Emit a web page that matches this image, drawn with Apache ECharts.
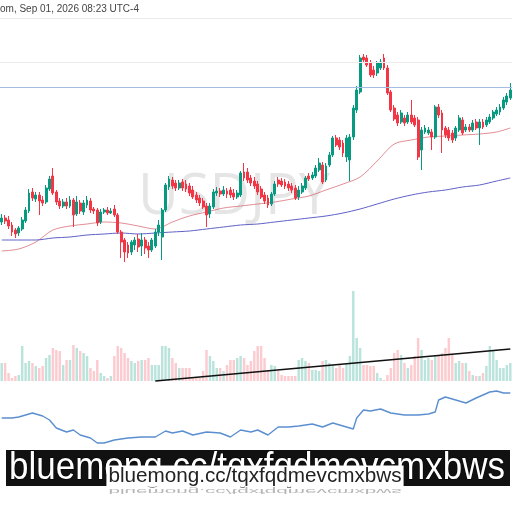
<!DOCTYPE html>
<html>
<head>
<meta charset="utf-8">
<script src="https://cdn.jsdelivr.net/npm/echarts@6/dist/echarts.min.js"></script>
<style>
  html, body { margin: 0; padding: 0; background: #fff; }
  #chart { width: 512px; height: 512px; }
</style>
</head>
<body>
<div id="chart"></div>
<script>
// USDJPY candles
const opens = [
  147.92, 148.00, 147.96, 147.86, 147.76, 147.70, 147.78, 147.94, 148.14, 148.52,
  148.38, 148.46, 148.36, 148.32, 148.58, 148.84, 148.52, 148.34, 148.24, 148.32,
  148.24, 148.36, 148.08, 148.30, 148.12, 148.26, 148.34, 148.18, 148.16, 147.92,
  148.12, 148.16, 148.10, 148.18, 148.06, 147.72, 147.56, 147.46, 147.32, 147.46,
  147.58, 147.44, 147.56, 147.44, 147.36, 147.44, 147.72, 147.62, 148.16, 148.62,
  148.76, 148.70, 148.60, 148.72, 148.68, 148.64, 148.56, 148.46, 148.40, 148.34,
  148.24, 148.08, 148.22, 148.50, 148.54, 148.48, 148.54, 148.56, 148.50, 148.42,
  148.46, 148.92, 148.92, 148.80, 148.74, 148.68, 148.58, 148.46, 148.40, 148.28,
  148.48, 148.76, 148.74, 148.72, 148.68, 148.64, 148.60, 148.42, 148.52, 148.60,
  148.84, 148.80, 148.84, 148.96, 149.06, 148.76, 149.06, 149.26, 149.60, 149.56,
  149.50, 149.22, 149.16, 149.62, 150.16, 150.52, 151.22, 151.20, 151.10, 150.96,
  150.90, 151.00, 151.20, 151.00, 150.52, 150.20, 150.06, 149.92, 150.00, 149.92,
  150.06, 150.00, 149.96, 149.36, 149.72, 149.70, 149.72, 149.62, 150.22, 150.10,
  149.80, 149.76, 149.70, 149.60, 149.76, 149.96, 149.76, 149.82, 149.76, 149.92,
  149.80, 149.92, 149.86, 149.92, 150.00, 150.08, 150.12, 150.20, 150.32, 150.40
]
const closes = [
  148.00, 147.94, 147.84, 147.72, 147.68, 147.80, 147.96, 148.16, 148.50, 148.40,
  148.46, 148.34, 148.30, 148.60, 148.78, 148.50, 148.32, 148.24, 148.32, 148.24,
  148.36, 148.06, 148.32, 148.14, 148.30, 148.36, 148.16, 148.14, 147.90, 148.12,
  148.16, 148.10, 148.14, 148.06, 147.72, 147.52, 147.32, 147.30, 147.52, 147.56,
  147.42, 147.56, 147.40, 147.36, 147.56, 147.72, 147.86, 148.16, 148.66, 148.78,
  148.64, 148.60, 148.70, 148.60, 148.58, 148.50, 148.42, 148.36, 148.30, 148.22,
  148.06, 148.24, 148.52, 148.54, 148.48, 148.56, 148.48, 148.46, 148.42, 148.50,
  148.90, 148.80, 148.76, 148.70, 148.64, 148.52, 148.42, 148.34, 148.26, 148.48,
  148.68, 148.68, 148.66, 148.64, 148.60, 148.56, 148.40, 148.56, 148.64, 148.80,
  148.78, 148.86, 149.00, 149.10, 148.72, 149.04, 149.26, 149.60, 149.46, 149.42,
  149.30, 149.60, 149.62, 150.20, 150.56, 151.20, 151.16, 151.06, 150.86, 150.86,
  151.10, 151.12, 151.00, 150.50, 150.16, 149.98, 149.90, 150.10, 149.90, 150.06,
  149.92, 149.86, 149.22, 149.76, 149.80, 149.76, 149.62, 150.22, 150.06, 149.76,
  149.66, 149.60, 149.56, 149.80, 150.00, 149.70, 149.82, 149.76, 149.90, 149.80,
  149.92, 149.82, 149.96, 150.02, 150.12, 150.16, 150.22, 150.36, 150.44, 150.56
]
const lows = [
  147.86, 147.88, 147.78, 147.64, 147.60, 147.64, 147.74, 147.90, 148.10, 148.34,
  148.32, 148.06, 148.24, 148.28, 148.54, 148.46, 148.26, 148.18, 148.20, 148.18,
  148.20, 147.82, 148.04, 148.08, 148.06, 148.20, 148.10, 148.08, 147.84, 147.88,
  148.08, 148.06, 148.08, 148.02, 147.68, 147.20, 147.12, 147.20, 147.26, 147.36,
  147.32, 147.24, 147.28, 147.20, 147.32, 147.40, 147.64, 147.16, 148.12, 148.56,
  148.58, 148.54, 148.56, 148.54, 148.52, 148.44, 148.38, 148.30, 148.24, 148.18,
  147.82, 148.00, 148.18, 148.44, 148.42, 148.44, 148.40, 148.40, 148.36, 148.38,
  148.42, 148.74, 148.70, 148.64, 148.58, 148.46, 148.38, 148.28, 148.20, 148.24,
  148.44, 148.62, 148.62, 148.58, 148.54, 148.50, 148.36, 148.36, 148.48, 148.56,
  148.74, 148.76, 148.80, 148.92, 148.68, 148.72, 149.02, 149.22, 149.42, 149.36,
  149.22, 149.12, 148.74, 149.56, 150.10, 150.48, 151.10, 151.02, 150.82, 150.80,
  150.84, 150.96, 150.96, 150.46, 150.12, 149.94, 149.84, 149.88, 149.84, 149.88,
  149.88, 149.82, 149.16, 148.96, 149.68, 149.66, 149.36, 149.58, 150.00, 149.30,
  149.60, 149.54, 149.50, 149.54, 149.72, 149.66, 149.72, 149.72, 149.72, 149.76,
  149.46, 149.78, 149.82, 149.88, 149.96, 150.04, 150.06, 150.16, 150.26, 150.36
]
const highs = [
  148.08, 148.06, 148.04, 147.92, 147.80, 147.84, 148.02, 148.22, 148.58, 148.60,
  148.52, 148.52, 148.44, 148.66, 148.84, 149.00, 148.56, 148.40, 148.38, 148.40,
  148.44, 148.40, 148.44, 148.36, 148.36, 148.44, 148.40, 148.22, 148.20, 148.18,
  148.20, 148.22, 148.20, 148.26, 148.10, 147.76, 147.60, 147.52, 147.56, 147.62,
  147.68, 147.70, 147.62, 147.52, 147.60, 147.78, 147.96, 148.20, 148.70, 148.84,
  148.82, 148.76, 148.76, 148.78, 148.76, 148.70, 148.64, 148.52, 148.46, 148.40,
  148.30, 148.30, 148.58, 148.62, 148.60, 148.64, 148.60, 148.62, 148.58, 148.56,
  148.94, 149.10, 149.00, 148.86, 148.82, 148.74, 148.64, 148.52, 148.46, 148.52,
  148.74, 148.82, 148.80, 148.78, 148.74, 148.70, 148.66, 148.64, 148.70, 148.84,
  148.90, 148.92, 149.06, 149.20, 149.12, 149.10, 149.32, 149.64, 149.66, 149.62,
  149.56, 149.66, 149.68, 150.26, 150.64, 151.26, 151.28, 151.26, 151.16, 151.04,
  151.14, 151.18, 151.28, 151.06, 150.56, 150.26, 150.12, 150.16, 150.06, 150.12,
  150.36, 150.06, 150.02, 149.82, 149.86, 149.82, 149.78, 150.26, 150.28, 150.16,
  149.84, 149.82, 149.76, 149.84, 150.06, 150.02, 149.88, 149.88, 149.96, 149.98,
  149.98, 149.98, 150.02, 150.08, 150.16, 150.22, 150.28, 150.42, 150.50, 150.70
]
const volumes = [
  18, 18, 8, 3, 5, 6, 35, 18, 20, 18,
  15, 13, 15, 23, 26, 33, 31, 30, 16, 21,
  21, 36, 33, 30, 28, 25, 13, 10, 21, 8,
  5, 3, 5, 25, 35, 33, 28, 23, 20, 18,
  20, 21, 21, 23, 16, 16, 16, 35, 35, 33,
  23, 18, 13, 13, 13, 13, 3, 3, 3, 10,
  31, 25, 20, 13, 13, 10, 16, 21, 21, 23,
  25, 23, 16, 20, 30, 35, 35, 23, 11, 16,
  15, 10, 6, 5, 5, 5, 5, 21, 23, 20,
  18, 11, 11, 10, 20, 21, 18, 16, 13, 16,
  13, 18, 25, 90, 43, 33, 16, 16, 15, 15,
  8, 3, 1, 6, 13, 28, 31, 26, 18, 13,
  16, 25, 43, 31, 21, 23, 21, 26, 26, 28,
  33, 43, 26, 18, 20, 18, 18, 10, 6, 5,
  5, 8, 15, 35, 30, 21, 13, 13, 16, 18
]
// moving averages, [candle index, price]
const maFast = [
  [0, 147.34], [5, 147.38], [10, 147.52], [15, 147.76], [20, 147.84], [25, 147.88],
  [30, 147.92], [35, 147.90], [40, 147.84], [45, 147.78], [50, 147.92], [55, 148.04],
  [60, 148.12], [65, 148.20], [70, 148.24], [75, 148.28], [80, 148.32], [85, 148.38],
  [90, 148.44], [95, 148.56], [100, 148.68], [105, 148.82], [110, 149.14], [115, 149.48],
  [120, 149.56], [125, 149.62], [130, 149.64], [135, 149.66], [140, 149.68], [145, 149.72],
  [149, 149.80]
]
const maSlow = [
  [0, 147.56], [5, 147.56], [10, 147.56], [15, 147.60], [20, 147.62], [25, 147.66],
  [30, 147.68], [35, 147.70], [40, 147.68], [45, 147.70], [50, 147.72], [55, 147.74],
  [60, 147.78], [65, 147.82], [70, 147.86], [75, 147.88], [80, 147.92], [85, 147.96],
  [90, 148.00], [95, 148.04], [100, 148.10], [105, 148.18], [110, 148.28], [115, 148.38],
  [120, 148.46], [125, 148.52], [130, 148.56], [135, 148.62], [140, 148.66], [145, 148.74],
  [149, 148.80]
]
// oscillator in the lower pane, [candle index, value]
const oscillator = [
  [0, 52], [3, 52], [5, 53], [9, 57], [12, 54], [14, 50], [16, 42], [19, 38], [21, 40],
  [23, 35], [26, 32], [28, 27], [30, 27], [33, 30], [37, 32], [41, 33], [45, 33], [48, 39],
  [50, 37], [53, 39], [56, 35], [60, 38], [64, 37], [67, 33], [70, 40], [73, 38], [75, 40],
  [78, 35], [81, 43], [84, 43], [87, 44], [91, 46], [94, 43], [97, 47], [100, 44], [103, 41],
  [104, 52], [106, 60], [108, 59], [111, 61], [114, 57], [118, 55], [122, 55], [125, 56],
  [127, 58], [128, 70], [130, 73], [133, 70], [136, 67], [139, 72], [143, 78], [145, 79],
  [147, 77], [149, 77]
]
const resistance = 150.62
const upperLevel = 151.12
const topLevel = 152.00
const trendStart = [45, 0]
const trendEnd = [149, 32]
const watermark = 'bluemong.cc/tqxfqdmevcmxbws'

const categories = opens.map((_, i) => String(i + 1))
const candleData = opens.map((o, i) => [o, closes[i], lows[i], highs[i]])
const volumeData = volumes.map((v, i) => ({
  value: v,
  itemStyle: {
    color: closes[i] >= opens[i] ? 'rgba(8,153,129,0.28)' : 'rgba(242,54,69,0.26)',
  },
}))

const option = {
  animation: false,
  backgroundColor: '#fff',
  grid: [
    { left: 0, right: 0, top: 18, height: 262 },
    { left: 0, right: 0, top: 281, height: 100 },
    { left: 0, right: 0, top: 385, height: 65 },
  ],
  xAxis: [0, 1, 2].map((g) => ({
    type: 'category',
    gridIndex: g,
    data: categories,
    boundaryGap: true,
    show: false,
  })),
  yAxis: [
    { gridIndex: 0, min: 146.76, max: 152.0, show: false },
    { gridIndex: 1, min: 0, max: 100, show: false },
    { gridIndex: 2, min: 20, max: 85, show: false },
  ],
  series: [
    {
      type: 'candlestick',
      data: candleData,
      barWidth: '70%',
      itemStyle: {
        color: '#089981',
        color0: '#F23645',
        borderColor: '#089981',
        borderColor0: '#F23645',
        borderWidth: 1,
      },
      markLine: {
        silent: true,
        symbol: ['none', 'none'],
        label: { show: false },
        data: [
          { yAxis: topLevel, lineStyle: { color: '#ececec', width: 1, type: 'solid' } },
          { yAxis: upperLevel, lineStyle: { color: '#ececec', width: 1, type: 'solid' } },
          { yAxis: resistance, lineStyle: { color: '#a3bde0', width: 1, type: 'solid' } },
        ],
      },
      z: 3,
    },
    {
      type: 'line',
      data: maFast,
      smooth: 0.3,
      showSymbol: false,
      lineStyle: { color: 'rgba(210,80,90,0.65)', width: 1 },
      z: 2,
    },
    {
      type: 'line',
      data: maSlow,
      smooth: 0.3,
      showSymbol: false,
      lineStyle: { color: '#5f61c6', width: 1 },
      z: 2,
    },
    {
      type: 'bar',
      xAxisIndex: 1,
      yAxisIndex: 1,
      data: volumeData,
      barWidth: '72%',
      markLine: {
        silent: true,
        symbol: ['none', 'none'],
        label: { show: false },
        lineStyle: { color: '#111', width: 1.5, type: 'solid' },
        data: [[
          { coord: [categories[trendStart[0]], trendStart[1]] },
          { coord: [categories[trendEnd[0]], trendEnd[1]] },
        ]],
      },
    },
    {
      type: 'line',
      xAxisIndex: 2,
      yAxisIndex: 2,
      data: oscillator,
      showSymbol: false,
      lineStyle: { color: '#5b8fd0', width: 1.4 },
    },
  ],
  graphic: [
    {
      type: 'text',
      left: 0,
      top: 4,
      style: {
        text: 'om, Sep 01, 2026 08:23 UTC-4',
        fontSize: 10,
        fontFamily: 'Liberation Sans',
        fill: '#444',
      },
    },
    {
      type: 'text',
      x: 234,
      y: 198,
      z: -1,
      style: {
        text: 'USDJPY',
        fontSize: 56,
        fontFamily: 'Open Sans',
        fill: 'rgba(0,0,0,0.1)',
        align: 'center',
        verticalAlign: 'middle',
      },
    },
    // glitched link banner at the bottom
    {
      type: 'rect',
      z: 100,
      shape: { x: 6, y: 450, width: 504, height: 36 },
      style: { fill: '#111' },
    },
    {
      type: 'text',
      x: 257,
      y: 468,
      scaleY: 1.1,
      z: 101,
      style: {
        text: watermark,
        fontSize: 35,
        fontFamily: 'Liberation Sans',
        fill: '#fff',
        stroke: '#000',
        lineWidth: 1,
        align: 'center',
        verticalAlign: 'middle',
      },
    },
    {
      type: 'text',
      x: 255,
      y: 487,
      scaleY: -0.35,
      z: 101,
      style: {
        text: watermark,
        fontSize: 20.7,
        fontFamily: 'Liberation Sans',
        fill: 'rgba(40,40,40,0.35)',
        align: 'center',
        verticalAlign: 'bottom',
      },
    },
    {
      type: 'text',
      x: 255,
      y: 476,
      z: 102,
      style: {
        text: watermark,
        fontSize: 20.7,
        fontFamily: 'Liberation Sans',
        fill: '#222',
        backgroundColor: '#fff',
        padding: [0, 2],
        align: 'center',
        verticalAlign: 'middle',
      },
    },
  ],
}

const chart = echarts.init(document.getElementById('chart'))
chart.setOption(option)
</script>
</body>
</html>
